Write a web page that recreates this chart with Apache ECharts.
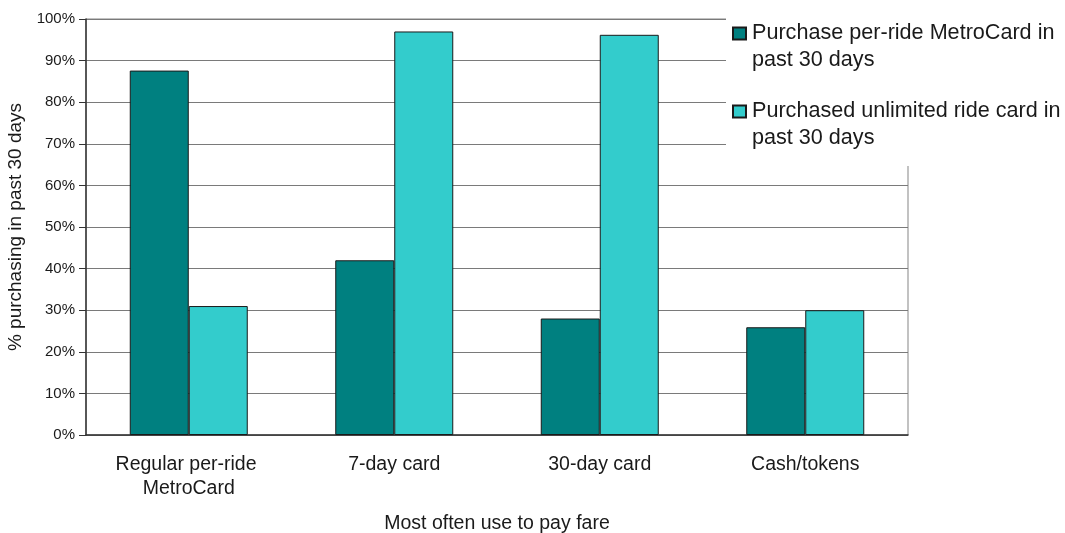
<!DOCTYPE html>
<html>
<head>
<meta charset="utf-8">
<script src="https://cdn.jsdelivr.net/npm/echarts@6/dist/echarts.min.js"></script>
<style>
  html, body { margin: 0; padding: 0; background: #fff; }
  #chart { width: 1065px; height: 533px; }
</style>
</head>
<body>
<div id="chart"></div>
<script>
const categories = ['Regular per-ride MetroCard', '7-day card', '30-day card', 'Cash/tokens'];
const seriesNames = ['Purchase per-ride MetroCard in past 30 days', 'Purchased unlimited ride card in past 30 days'];
const perRideValues = [87.6, 42, 28, 25.9];
const unlimitedValues = [31, 97, 96.2, 30];
const yTicks = { min: 0, max: 100, interval: 10 };

const legendLines = {
  'Purchase per-ride MetroCard in past 30 days': 'Purchase per-ride MetroCard in\npast 30 days',
  'Purchased unlimited ride card in past 30 days': 'Purchased unlimited ride card in\npast 30 days'
};

const FONT = "'Liberation Sans', Arial, sans-serif";
const chart = echarts.init(document.getElementById('chart'), null, { renderer: 'canvas' });

chart.setOption({
  backgroundColor: '#ffffff',
  animation: false,
  textStyle: { fontFamily: FONT, color: '#1a1a1a' },
  grid: {
    left: 86, right: 157, top: 19, bottom: 98,
    containLabel: false,
    outerBoundsMode: 'none',
    show: true, borderColor: '#858585', borderWidth: 1, backgroundColor: 'transparent'
  },
  legend: {
    orient: 'vertical',
    left: 726,
    top: -7,
    padding: [0, 10, 14, 6],
    backgroundColor: '#ffffff',
    itemWidth: 13,
    itemHeight: 12,
    itemGap: -3,
    icon: 'rect',
    data: seriesNames,
    formatter: function (name) { return '\n' + legendLines[name]; },
    textStyle: {
      fontFamily: FONT,
      fontSize: 21.6,
      lineHeight: 27,
      color: '#1a1a1a',
      padding: [0, 0, 0, 1]
    }
  },
  xAxis: {
    type: 'category',
    data: categories,
    name: 'Most often use to pay fare',
    nameLocation: 'middle',
    nameGap: 79,
    nameTextStyle: { fontFamily: FONT, fontSize: 19.5, color: '#1a1a1a' },
    axisLine: { show: true, lineStyle: { color: '#333333', width: 1.5 } },
    axisTick: { show: false },
    axisLabel: {
      margin: 18,
      fontFamily: FONT,
      fontSize: 19.5,
      lineHeight: 24,
      color: '#1a1a1a',
      width: 185,
      overflow: 'break',
      interval: 0
    },
    splitLine: { show: false }
  },
  yAxis: {
    type: 'value',
    min: yTicks.min,
    max: yTicks.max,
    interval: yTicks.interval,
    name: '% purchasing in past 30 days',
    nameLocation: 'middle',
    nameGap: 56,
    nameTextStyle: { fontFamily: FONT, fontSize: 19, color: '#1a1a1a' },
    axisLine: { show: true, lineStyle: { color: '#333333', width: 1.5 } },
    axisTick: { show: true, length: 7, lineStyle: { color: '#333333' } },
    axisLabel: {
      margin: 11,
      fontFamily: FONT,
      fontSize: 15,
      color: '#1a1a1a',
      formatter: '{value}%'
    },
    splitLine: { show: true, lineStyle: { color: '#7a7a7a', width: 1 } }
  },
  series: [
    {
      name: seriesNames[0],
      type: 'bar',
      data: perRideValues,
      barWidth: 59,
      barGap: '0%',
      itemStyle: { color: '#008080', borderColor: '#1a1a1a', borderWidth: 1 }
    },
    {
      name: seriesNames[1],
      type: 'bar',
      data: unlimitedValues,
      barWidth: 59,
      barGap: '0%',
      itemStyle: { color: '#33CCCC', borderColor: '#1a1a1a', borderWidth: 1 }
    }
  ]
});
</script>
</body>
</html>
